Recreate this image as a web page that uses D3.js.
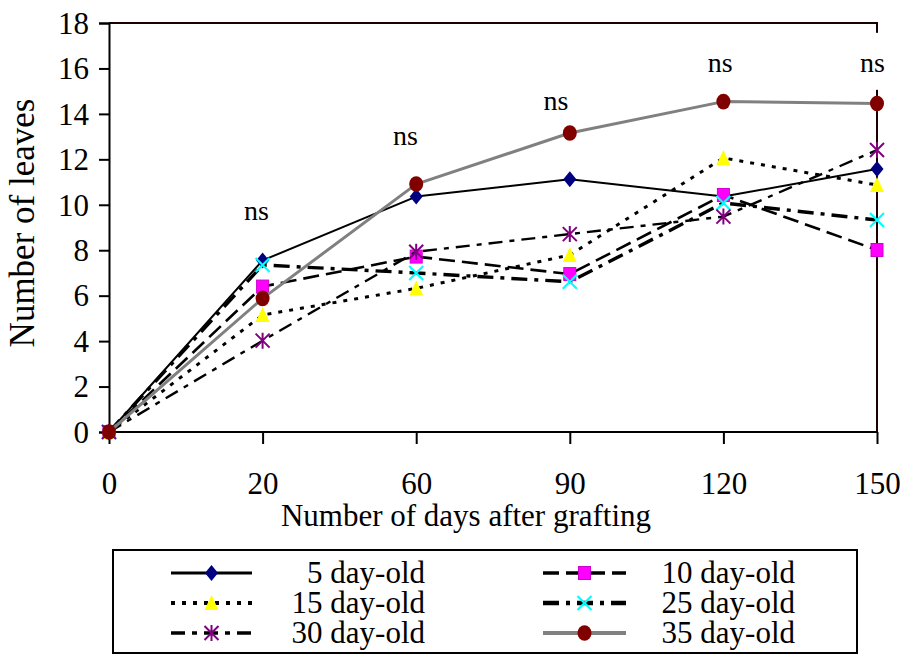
<!DOCTYPE html>
<html>
<head>
<meta charset="utf-8">
<script src="https://cdn.jsdelivr.net/npm/d3@7"></script>
<style>
  html, body { margin: 0; padding: 0; background: #fff; }
  svg, svg text { font-family: "Liberation Serif", "Tinos", "Times New Roman", "DejaVu Serif", serif !important; }
</style>
</head>
<body>
<svg id="chart" width="906" height="657"></svg>
<script>
// ---- data ----
const days = ["0", "20", "60", "90", "120", "150"];
const yTicks = [0, 2, 4, 6, 8, 10, 12, 14, 16, 18];
const seriesNames = ["5 day-old", "10 day-old", "15 day-old", "25 day-old", "30 day-old", "35 day-old"];
const age5  = [0, 7.55, 10.36, 11.12, 10.36, 11.57];
const age10 = [0, 6.4, 7.72, 6.95, 10.43, 8.01];
const age15 = [0, 5.15, 6.32, 7.79, 12.06, 10.87];
const age25 = [0, 7.35, 7.0, 6.61, 10.08, 9.33];
const age30 = [0, 4.02, 7.93, 8.71, 9.48, 12.41];
const age35 = [0, 5.88, 10.91, 13.16, 14.54, 14.46];
const nsDays = ["20", "60", "90", "120", "150"];
const nsLevel = [9.33, 12.63, 14.17, 15.85, 15.85];
const nsText = "ns";

// ---- styles ----
const styles = {
  "5 day-old":  { stroke: "#000", width: 2,   dash: null,          marker: "diamond",  fill: "#000080" },
  "10 day-old": { stroke: "#000", width: 2.6, dash: "16,7",        marker: "square",   fill: "#FF00FF" },
  "15 day-old": { stroke: "#000", width: 3,   dash: "4,7",         marker: "triangle", fill: "#FFFF00" },
  "25 day-old": { stroke: "#000", width: 3.4, dash: "16,7,4,7",    marker: "x",        fill: "#00FFFF" },
  "30 day-old": { stroke: "#000", width: 2.4, dash: "14,7,5,7",    marker: "star",     fill: "#800080" },
  "35 day-old": { stroke: "#808080", width: 3, dash: null,         marker: "circle",   fill: "#800000" }
};
const values = [age5, age10, age15, age25, age30, age35];
const nsShift = [-0.04, -0.07, -0.09, -0.02, -0.03];

const FONT = '"Liberation Serif", "Tinos", "Times New Roman", "DejaVu Serif", serif';
const svg = d3.select("#chart");
const margin = { left: 109, top: 23, right: 877, bottom: 432 };

const x = d3.scalePoint().domain(days).range([margin.left, margin.right]);
const y = d3.scaleLinear().domain([0, 18]).range([margin.bottom, margin.top]);
const step = x.step();

// plot border (top & right)
svg.append("path")
  .attr("d", `M${margin.left},${margin.top}H${margin.right}V${margin.bottom}`)
  .attr("fill", "none").attr("stroke", "#1a0000").attr("stroke-width", 2);

// y axis
const yAxis = svg.append("g").attr("transform", `translate(${margin.left},0)`)
  .call(d3.axisLeft(y).tickValues(yTicks).tickSize(10).tickPadding(10).tickFormat(d3.format("d")));
yAxis.attr("font-family", FONT);
yAxis.select(".domain").attr("stroke", "#000").attr("stroke-width", 2);
yAxis.selectAll(".tick line").attr("stroke", "#000").attr("stroke-width", 2);
yAxis.selectAll(".tick text").attr("font-size", 31).attr("fill", "#000")
  .style("font-family", FONT).attr("dy", "0.33em");

// x axis
const xAxis = svg.append("g").attr("transform", `translate(0,${margin.bottom})`)
  .call(d3.axisBottom(x).tickSize(12).tickPadding(10));
xAxis.attr("font-family", FONT);
xAxis.select(".domain").attr("stroke", "#000").attr("stroke-width", 2).attr("d", `M${margin.left},0H${margin.right}`);
xAxis.selectAll(".tick line").attr("stroke", "#000").attr("stroke-width", 2);
xAxis.selectAll(".tick text").attr("font-size", 31).attr("fill", "#000")
  .style("font-family", FONT).attr("y", 62).attr("dy", 0);

// axis titles
svg.append("text").attr("x", (margin.left + margin.right) / 2 - 27).attr("y", 526)
  .attr("text-anchor", "middle").attr("font-size", 31).style("font-family", FONT).text("Number of days after grafting");
svg.append("text").attr("transform", "translate(34,223) rotate(-90)")
  .attr("text-anchor", "middle").attr("font-size", 35).style("font-family", FONT).text("Number of leaves");

// ns labels (white boxes)
const nsG = svg.append("g");
nsDays.forEach((d, i) => {
  const cx = x(d) + nsShift[i] * step;
  const by = y(nsLevel[i]);
  nsG.append("rect").attr("x", cx - 16).attr("y", by - 39).attr("width", 32).attr("height", 57).attr("fill", "#fff");
  nsG.append("text").attr("x", cx).attr("y", by).attr("text-anchor", "middle")
    .attr("font-size", 28).style("font-family", FONT).text(nsText);
});

// marker drawing
function drawMarker(g, type, cx, cy, fill) {
  const s = 7;
  if (type === "diamond") {
    g.append("path").attr("d", `M${cx},${cy - 8}L${cx + 6.5},${cy}L${cx},${cy + 8}L${cx - 6.5},${cy}Z`).attr("fill", fill);
  } else if (type === "square") {
    g.append("rect").attr("x", cx - 6).attr("y", cy - 6.5).attr("width", 12).attr("height", 13)
      .attr("fill", fill).attr("stroke", "#d000d0").attr("stroke-width", 1);
  } else if (type === "triangle") {
    g.append("path").attr("d", `M${cx},${cy - 8}L${cx + 7},${cy + 7}L${cx - 7},${cy + 7}Z`).attr("fill", fill);
  } else if (type === "x") {
    g.append("path").attr("d", `M${cx - s},${cy - s}L${cx + s},${cy + s}M${cx + s},${cy - s}L${cx - s},${cy + s}`)
      .attr("stroke", fill).attr("stroke-width", 2.2).attr("fill", "none");
  } else if (type === "star") {
    g.append("path").attr("d", `M${cx - s},${cy - s}L${cx + s},${cy + s}M${cx + s},${cy - s}L${cx - s},${cy + s}M${cx},${cy - s - 1}L${cx},${cy + s + 1}`)
      .attr("stroke", fill).attr("stroke-width", 2).attr("fill", "none");
  } else if (type === "circle") {
    g.append("ellipse").attr("cx", cx).attr("cy", cy).attr("rx", 7).attr("ry", 7.8).attr("fill", fill);
  }
}

// series
const line = d3.line().x((d, i) => x(days[i])).y(d => y(d));
seriesNames.forEach((name, k) => {
  const st = styles[name];
  const g = svg.append("g");
  g.append("path").datum(values[k]).attr("d", line)
    .attr("fill", "none").attr("stroke", st.stroke).attr("stroke-width", st.width)
    .attr("stroke-dasharray", st.dash).attr("stroke-linejoin", "round");
  values[k].forEach((v, i) => drawMarker(g, st.marker, x(days[i]), y(v), st.fill));
});

// legend
const legend = svg.append("g");
legend.append("rect").attr("x", 113).attr("y", 550).attr("width", 744).attr("height", 103)
  .attr("fill", "#fff").attr("stroke", "#000").attr("stroke-width", 2);
const legendOrder = [["5 day-old", "10 day-old"], ["15 day-old", "25 day-old"], ["30 day-old", "35 day-old"]];
const cols = [{ x1: 171, x2: 252, tx: 425 }, { x1: 543, x2: 626, tx: 795 }];
legendOrder.forEach((row, r) => {
  const cy = 573 + r * 30;
  row.forEach((name, c) => {
    const st = styles[name];
    const col = cols[c];
    legend.append("line").attr("x1", col.x1).attr("x2", col.x2).attr("y1", cy).attr("y2", cy)
      .attr("stroke", st.stroke).attr("stroke-width", st.width + 1).attr("stroke-dasharray", st.dash);
    drawMarker(legend, st.marker, (col.x1 + col.x2) / 2, cy, st.fill);
    legend.append("text").attr("x", col.tx).attr("y", cy + 10).attr("text-anchor", "end")
      .attr("font-size", 31).style("font-family", FONT).text(name);
  });
});
</script>
</body>
</html>
